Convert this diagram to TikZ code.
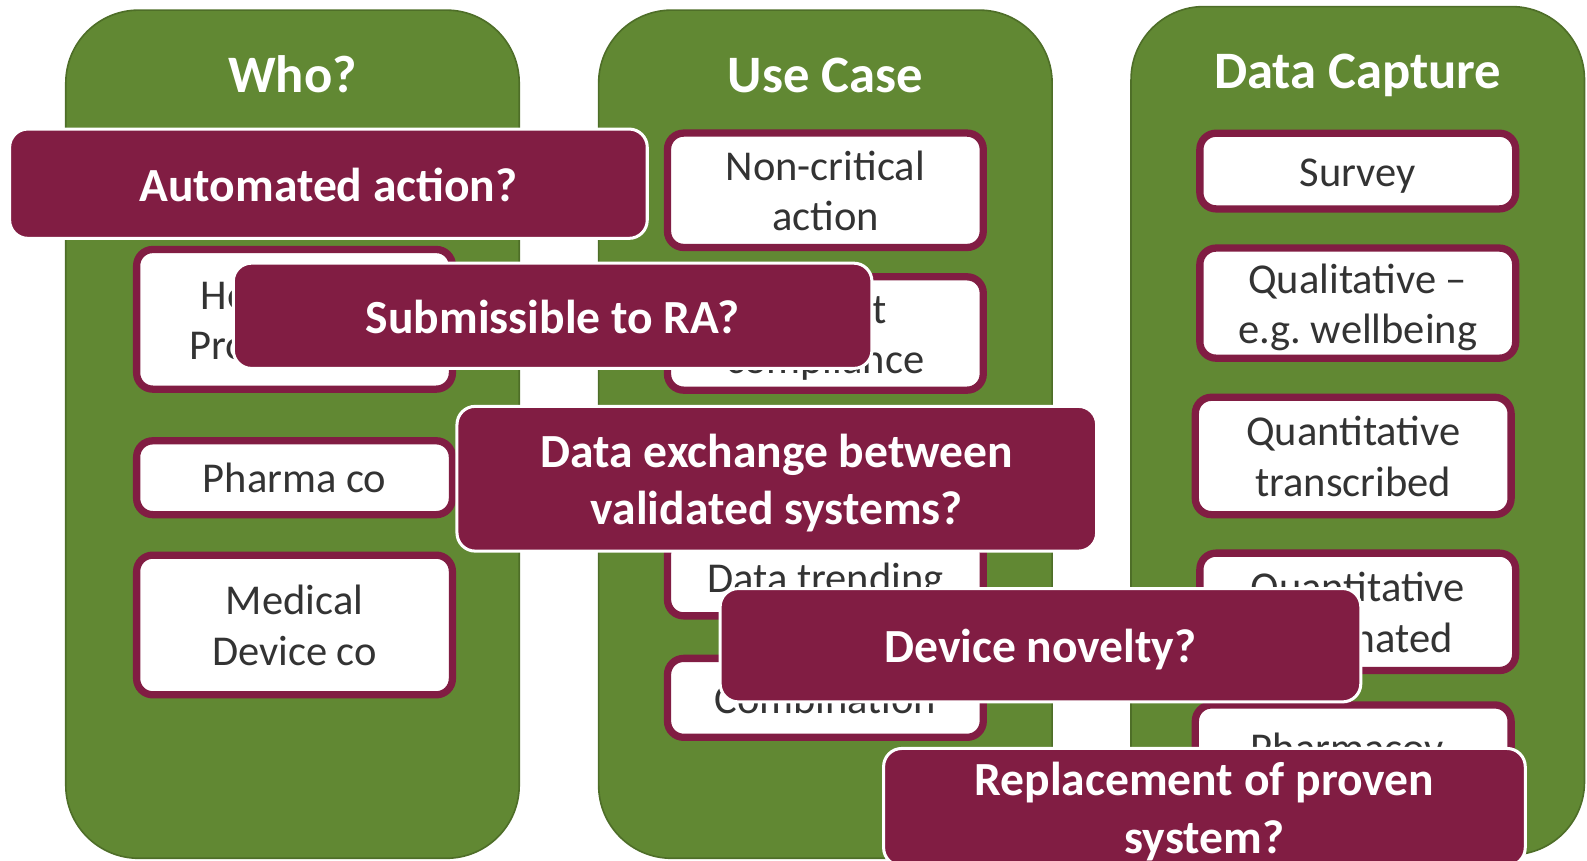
\documentclass[tikz,border=0pt]{standalone}
\usepackage{fontspec}
\setmainfont{Carlito}
\definecolor{leaf}{RGB}{97,136,51}
\definecolor{leafedge}{RGB}{78,110,40}
\definecolor{wine}{RGB}{129,29,67}
\definecolor{ink}{RGB}{51,51,51}
\newcommand\boxstrut{\rule[-0.2\baselineskip]{0pt}{\baselineskip}}
\tikzset{
  lane/.style={fill=leaf, draw=leafedge, line width=0.8pt, rounded corners=36pt,
    minimum width=224pt, minimum height=419pt, inner sep=0pt},
  lanetitle/.style={anchor=base, text=white, font=\bfseries\fontsize{26}{31}\selectfont},
  choice/.style={draw=wine, fill=white, line width=3.6pt, rounded corners=8pt,
    minimum width=156pt, inner sep=0pt, align=center, text=ink,
    font=\fontsize{21}{25}\selectfont, execute at end node=\boxstrut},
  question/.style={draw=white, fill=wine, line width=1.5pt, rounded corners=9pt,
    inner sep=0pt, align=center, text=white,
    font=\bfseries\fontsize{23.5}{28.5}\selectfont, execute at end node=\boxstrut}
}
\begin{document}
\begin{tikzpicture}[x=0.5pt, y=-0.5pt]
\useasboundingbox (0,0) rectangle (1568,850);
\clip (0,0) rectangle (1568,850);
\foreach \name/\cx/\cy/\title/\base in {who/289/429/Who?/91, usecase/815.5/429/Use Case/91, capture/1341.5/425.5/Data Capture/87} {
  \node[lane] (\name) at (\cx,\cy) {};
  \node[lanetitle] (\name-title) at (\cx,\base) {\title};
}
% who
\node[choice, minimum height=69pt] (hcp) at (291,315.5) {\boxstrut Healthcare\\Professional};
\node[choice, minimum height=36.5pt] (pharma) at (291,472) {Pharma co};
\node[choice, minimum height=69pt] (meddev) at (291,617.5) {\boxstrut Medical\\Device co};
% use case
\node[choice, minimum height=56.5pt] (noncrit) at (815.5,188) {\boxstrut Non-critical\\action};
\node[choice, minimum height=56pt] (compliance) at (815.5,329.5) {\boxstrut Patient\\compliance};
\node[choice, minimum height=38.5pt] (trending) at (815.5,570) {Data trending};
\node[choice, minimum height=39pt] (combo) at (815.5,689.5) {Combination};
% data capture
\node[choice, minimum height=37.4pt] (survey) at (1341.5,169) {Survey};
\node[choice, minimum height=54.4pt] (qual) at (1341.5,299.5) {\boxstrut Qualitative --\\e.g.\ wellbeing};
\node[choice, minimum height=58pt] (transcribed) at (1337,450.5) {\boxstrut Quantitative\\transcribed};
\node[choice, minimum height=58pt] (automated) at (1341.5,604.5) {\boxstrut Quantitative\\automated};
\node[choice, minimum height=66.5pt] (pv) at (1337,763) {\boxstrut Pharmacov-\\igilance};
% questions on top
\node[question, minimum width=315pt, minimum height=54pt] (auto) at (324.5,181.5) {Automated action?};
\node[question, minimum width=315.5pt, minimum height=52pt] (submit) at (546,312) {Submissible to RA?};
\node[question, minimum width=316pt, minimum height=71.5pt] (exchange) at (767.5,473) {\boxstrut Data exchange between\\validated systems?};
\node[question, minimum width=316.5pt, minimum height=56pt] (novelty) at (1028,637.5) {Device novelty?};
\node[question, minimum width=317pt, minimum height=58pt] (replace) at (1190,797.5) {\boxstrut Replacement of proven\\system?};
\end{tikzpicture}
\end{document}
